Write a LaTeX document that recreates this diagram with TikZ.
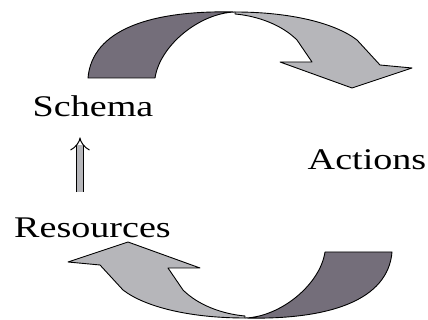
\documentclass[tikz,border=0pt]{standalone}
\usepackage{fontspec}
\setmainfont{Liberation Serif}
\usetikzlibrary{arrows.meta,positioning}

\definecolor{arrowdark}{RGB}{116,110,122}
\definecolor{arrowlight}{RGB}{182,182,186}

\begin{document}
\begin{tikzpicture}[x=1pt, y=1pt, >={Implies[length=9pt, width=17pt]},
    wordlabel/.style={font=\fontsize{30}{34}\selectfont, xscale=1.27, transform shape, inner sep=0pt, anchor=base},
    backside/.style={draw=black, line width=0.9pt, fill=arrowdark, line join=round},
    frontside/.style={draw=black, line width=0.9pt, fill=arrowlight, line join=round},
    pics/cyclearrow/.style={code={
        \filldraw[backside] (88,242) .. controls (92,290) and (150,310) .. (235,308)
            .. controls (200,307) and (160,275) .. (155,242) -- cycle;
        \filldraw[frontside] (235,308) .. controls (290,308) and (335,297) .. (357,280)
            -- (380,255) -- (412,252) -- (352,232) -- (280,258) -- (312,258) -- (297,280)
            .. controls (282,295) and (258,304) .. (235,306) -- cycle;
    }}]
  \useasboundingbox (0,0) rectangle (428,320);
  % the two turning arrows
  \pic at (0,0) {cyclearrow};
  \pic[rotate=180] at (480,310) {cyclearrow};
  % words
  \node[wordlabel] (schema) at (93,203) {Schema};
  \node[wordlabel] (res) at (92.5,82) {Resources};
  \node[wordlabel] (act) at (367,150) {Actions};
  \draw[double=arrowlight, double distance=6pt, line width=1pt, ->, shorten <=26pt, shorten >=20pt]
    ([xshift=-12.5pt]res.north) -- ([xshift=-13pt]schema.south);
\end{tikzpicture}
\end{document}
